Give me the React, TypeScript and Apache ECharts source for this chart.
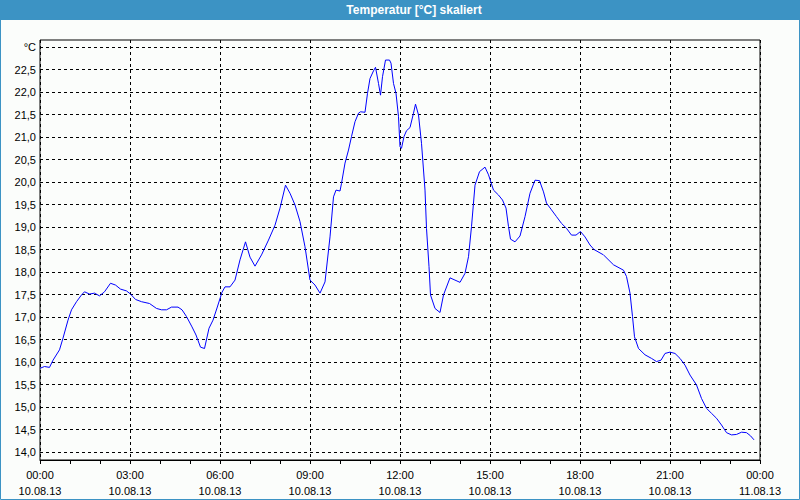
import React, { useEffect, useRef } from "react";
import * as echarts from "echarts";

// minutes since 10.08.13 00:00
const minutes = [
  0, 9, 19, 26, 39, 46, 56, 63, 73, 83, 89, 99, 109, 119, 129, 141, 151, 161, 173, 181,
  191, 203, 219, 233, 243, 253, 263, 276, 284, 293, 304, 312, 321, 329, 338, 346, 354, 364, 370, 380,
  390, 400, 411, 420, 430, 443, 457, 470, 480, 491, 500, 510, 520, 530, 540, 550, 560, 570, 580, 587,
  592, 600, 603, 610, 617, 623, 630, 637, 641, 650, 655, 660, 667, 671, 677, 681, 685, 691, 699, 702,
  707, 712, 717, 720, 723, 728, 733, 740, 747, 751, 757, 763, 770, 773, 778, 781, 790, 800, 807, 820,
  830, 840, 850, 857, 863, 870, 879, 890, 897, 907, 917, 925, 932, 937, 941, 950, 960, 970, 980, 990,
  999, 1007, 1013, 1023, 1033, 1043, 1053, 1063, 1072, 1081, 1090, 1100, 1108, 1127, 1147, 1167, 1173, 1180, 1185, 1189,
  1197, 1210, 1223, 1233, 1242, 1250, 1260, 1270, 1280, 1290, 1300, 1313, 1323, 1333, 1343, 1353, 1363, 1373, 1383, 1393,
  1403, 1413, 1421, 1428,
];
const temps = [
  15.86, 15.9, 15.88, 16.04, 16.27, 16.53, 16.93, 17.16, 17.34, 17.49, 17.56, 17.51, 17.53, 17.47, 17.56, 17.75, 17.71, 17.62, 17.58, 17.51,
  17.39, 17.34, 17.3, 17.19, 17.16, 17.16, 17.22, 17.22, 17.16, 17.01, 16.78, 16.6, 16.33, 16.3, 16.75, 16.93, 17.2, 17.55, 17.67, 17.67,
  17.82, 18.27, 18.67, 18.33, 18.13, 18.38, 18.71, 19.04, 19.42, 19.93, 19.75, 19.49, 19.12, 18.56, 17.82, 17.71, 17.53, 17.78, 18.78, 19.67,
  19.82, 19.8, 19.97, 20.42, 20.71, 21.01, 21.34, 21.53, 21.56, 21.55, 21.97, 22.3, 22.47, 22.55, 22.19, 21.93, 22.34, 22.71, 22.71, 22.64,
  22.19, 21.97, 21.45, 20.78, 20.75, 21.01, 21.14, 21.21, 21.53, 21.73, 21.49, 20.86, 19.82, 18.97, 18.12, 17.49, 17.19, 17.1, 17.49, 17.87,
  17.82, 17.77, 17.97, 18.34, 19.01, 19.93, 20.23, 20.33, 20.16, 19.82, 19.71, 19.6, 19.42, 19.01, 18.73, 18.67, 18.8, 19.23, 19.75, 20.04,
  20.03, 19.78, 19.53, 19.38, 19.23, 19.08, 18.97, 18.82, 18.82, 18.9, 18.78, 18.6, 18.5, 18.38, 18.16, 18.04, 17.9, 17.53, 17.01, 16.56,
  16.3, 16.16, 16.08, 16.01, 16.04, 16.19, 16.22, 16.19, 16.08, 15.93, 15.71, 15.49, 15.19, 14.97, 14.86, 14.75, 14.6, 14.43, 14.38, 14.39,
  14.44, 14.43, 14.36, 14.27,
];

const timeLabels = ["00:00", "03:00", "06:00", "09:00", "12:00", "15:00", "18:00", "21:00", "00:00"];
const dateLabels = ["10.08.13", "10.08.13", "10.08.13", "10.08.13", "10.08.13", "10.08.13", "10.08.13", "10.08.13", "11.08.13"];
const yUnitLabel = "°C";
const titleText = "Temperatur [°C] skaliert";

const FONT = "Liberation Sans";
const BLUE = "#3c93c4";

export default function App() {
  const ref = useRef<HTMLDivElement>(null);
  useEffect(() => {
    document.body.style.margin = "0";
    if (!ref.current) return;
    const chart = echarts.init(ref.current, undefined, { renderer: "svg" });
    const data = minutes.map((m, i) => [m, temps[i]]);
    chart.setOption({
      animation: false,
      backgroundColor: "#fbfdfb",
      grid: [
        { left: 40, width: 720, top: 47, height: 405, show: false },
        { left: 40, width: 720, top: 40, height: 420, show: true, borderColor: "#000", borderWidth: 1, backgroundColor: "transparent", z: 5 },
      ],
      xAxis: [
        { type: "value", gridIndex: 0, min: 0, max: 1440, show: false },
        {
          type: "value",
          gridIndex: 1,
          min: 0,
          max: 1440,
          interval: 180,
          axisLine: { show: true, lineStyle: { color: "#000", width: 1 } },
          axisTick: { show: true, length: 4, lineStyle: { color: "#000" } },
          minorTick: { show: true, splitNumber: 3, length: 4, lineStyle: { color: "#000" } },
          splitLine: { show: true, lineStyle: { color: "#000", type: [3, 3], width: 1 } },
          axisLabel: {
            margin: 7,
            fontFamily: FONT,
            fontSize: 11,
            color: "#000",
            lineHeight: 16,
            formatter: (v: number) => {
              const i = Math.round(v / 180);
              return timeLabels[i] + "\n" + dateLabels[i];
            },
          },
        },
      ],
      yAxis: [
        {
          type: "value",
          gridIndex: 0,
          min: 14,
          max: 23,
          interval: 0.5,
          axisLine: { show: false },
          axisTick: { show: false },
          splitLine: { show: true, lineStyle: { color: "#000", type: [3, 3], width: 1 } },
          axisLabel: {
            margin: 4,
            fontFamily: FONT,
            fontSize: 11,
            color: "#000",
            formatter: (v: number) => (v >= 23 ? yUnitLabel : v.toFixed(1).replace(".", ",")),
          },
        },
        { type: "value", gridIndex: 1, min: 0, max: 1, show: false },
      ],
      series: [
        {
          type: "line",
          xAxisIndex: 0,
          yAxisIndex: 0,
          data,
          showSymbol: false,
          symbol: "none",
          lineStyle: { color: "#0000ff", width: 1 },
          z: 10,
        },
      ],
      graphic: [
        { type: "rect", shape: { x: 0, y: 0, width: 800, height: 20 }, style: { fill: BLUE }, z: 100 },
        {
          type: "text",
          x: 414,
          y: 10,
          style: { text: titleText, fill: "#fff", font: `bold 12px "${FONT}"`, align: "center", verticalAlign: "middle" },
          z: 101,
        },
        { type: "rect", shape: { x: 0.5, y: 0.5, width: 799, height: 499 }, style: { fill: "none", stroke: BLUE, lineWidth: 1 }, z: 100 },
      ],
    });
    return () => chart.dispose();
  }, []);
  return <div ref={ref} style={{ width: 800, height: 500 }} />;
}
